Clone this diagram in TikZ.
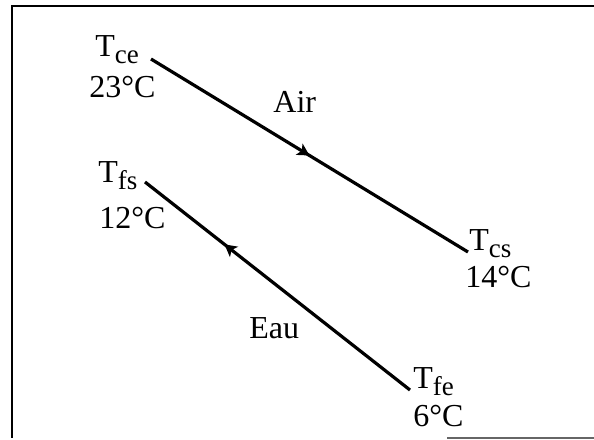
\documentclass[tikz,border=0pt]{standalone}
\usepackage{fontspec}
\setmainfont{Liberation Serif}
\usepackage{tikz}
\usetikzlibrary{
    arrows.meta,
    decorations.markings
}
% subscript of the temperature names
\newcommand{\tsub}[1]{\raisebox{-3.5pt}{\fontsize{13.5}{14}\selectfont #1}}
\tikzset{
    % Temperature names and values
    tlabel/.style={
        font=\fontsize{16}{19}\selectfont,
        anchor=base west,
        inner sep=0pt,
    },
    % Flow lines with an arrow part way along
    flow/.style={
        line width=1.6pt,
        postaction={decorate},
        decoration={markings,
            mark=at position #1 with {\arrow{Stealth[length=6pt, width=6.5pt, inset=1.5pt]}}},
    },
    % Outer frame
    frame/.style={
        line width=1.4pt,
    },
}
\begin{document}
\begin{tikzpicture}[x=0.5pt, y=-0.5pt]
    \useasboundingbox (0,0) rectangle (594,439);
    \draw [frame] (594,6) -- (12,6) -- (12,438);
    \draw [line width=0.6pt, black!60] (447,438) -- (594,438);

    % air side
    \node (tce) [tlabel] at (95,56) {T\tsub{ce}};
    \node (tceval) [tlabel] at (89,97) {23°C};
    \node (tcs) [tlabel] at (469,250) {T\tsub{cs}};
    \node (tcsval) [tlabel] at (465,287) {14°C};
    \node (air) [tlabel] at (273,112) {Air};

    % water side
    \node (tfs) [tlabel] at (98,182) {T\tsub{fs}};
    \node (tfsval) [tlabel] at (99,228) {12°C};
    \node (tfe) [tlabel] at (413,388) {T\tsub{fe}};
    \node (tfeval) [tlabel] at (413,426) {6°C};
    \node (eau) [tlabel] at (249,338) {Eau};

    \coordinate (ce) at (151,59);
    \coordinate (cs) at (468,252);
    \coordinate (fs) at (145,182);
    \coordinate (fe) at (410,390);

    \draw [flow=0.5] (ce) -- (cs);
    \draw [flow=0.7] (fe) -- (fs);
\end{tikzpicture}
\end{document}
